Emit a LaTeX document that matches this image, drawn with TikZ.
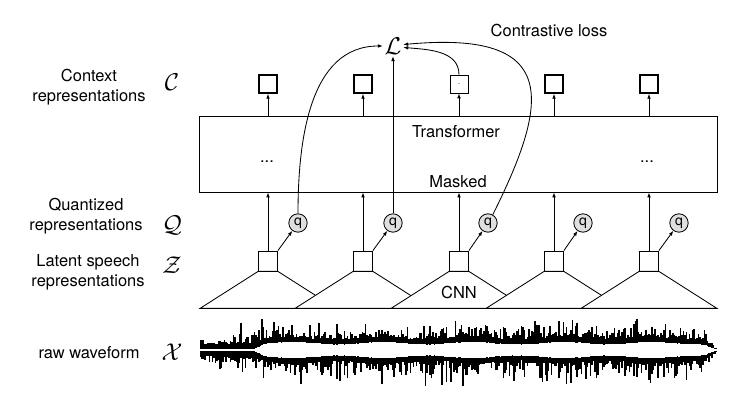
\documentclass[tikz,border=0pt]{standalone}
\usepackage{amssymb,amsmath}
\usepackage{fontspec}
\setmainfont{TeX Gyre Heros}
\usetikzlibrary{arrows.meta,positioning,calc}
\tikzset{
  ctxbox/.style={draw, line width=1.1pt, minimum width=0.45cm, minimum height=0.45cm, inner sep=0pt},
  latbox/.style={draw, minimum width=0.475cm, minimum height=0.5cm, inner sep=0pt},
  qnode/.style={draw, circle, fill=gray!25, minimum size=0.46cm, inner sep=0pt, font=\fontsize{10}{10}\selectfont},
  lbl/.style={align=center, font=\fontsize{11.7}{14}\selectfont},
  sym/.style={inner sep=1pt, font=\fontsize{16}{16}\selectfont},
  wave/.style={line width=1.2pt},
}

\begin{document}
\begin{tikzpicture}[x=0.025cm, y=0.025cm, line width=0.6pt, >={Latex[length=3.5pt,width=2.6pt]}]
            \useasboundingbox (0,0) rectangle (751,400);

            % labels
            \node[lbl] (tctx) at (89,313) {Context\\representations};
            \node[lbl] (tq) at (86,184) {Quantized\\representations};
            \node[lbl] (tz) at (88,128) {Latent speech\\representations};
            \node[lbl] (tx) at (89,47) {raw waveform};
            \node[sym] (sc) at (172,318) {$\mathcal{C}$};
            \node[sym] (sq) at (172,175) {$\mathcal{Q}$};
            \node[sym] (sz) at (172,135) {$\mathcal{Z}$};
            \node[sym] (sx) at (172,48) {$\mathcal{X}$};

            % transformer
            \node[draw, minimum width=12.95cm, minimum height=1.9cm] (tf) at (458,246) {};
            \node[lbl] (ttf) at (456,268) {Transformer};
            \node[lbl] (tmask) at (458,218) {Masked};
            \node[lbl] (dl) at (267,238) {...};
            \node[lbl] (dr) at (647,238) {...};

            % context representations
            \node[ctxbox] (c1) at (268,316) {};
            \node[ctxbox] (c2) at (363,316) {};
            \node[ctxbox, line width=0.5pt] (c3) at (459,316) {\tiny .};
            \node[ctxbox] (c4) at (554,316) {};
            \node[ctxbox] (c5) at (649,316) {};

            % latent speech representations
            \node[latbox] (z1) at (268,139) {};
            \node[latbox] (z2) at (363,139) {};
            \node[latbox] (z3) at (459,139) {};
            \node[latbox] (z4) at (554,139) {};
            \node[latbox] (z5) at (649,139) {};

            % CNN
            \filldraw[fill=white] (z1.south west) -- ($(z1.south)+(-68,-37)$) -- ($(z1.south)+(68,-37)$) -- (z1.south east) -- cycle;
            \filldraw[fill=white] (z2.south west) -- ($(z2.south)+(-68,-37)$) -- ($(z2.south)+(68,-37)$) -- (z2.south east) -- cycle;
            \filldraw[fill=white] (z3.south west) -- ($(z3.south)+(-68,-37)$) -- ($(z3.south)+(68,-37)$) -- (z3.south east) -- cycle;
            \filldraw[fill=white] (z4.south west) -- ($(z4.south)+(-68,-37)$) -- ($(z4.south)+(68,-37)$) -- (z4.south east) -- cycle;
            \filldraw[fill=white] (z5.south west) -- ($(z5.south)+(-68,-37)$) -- ($(z5.south)+(68,-37)$) -- (z5.south east) -- cycle;
            \node[lbl] (tcnn) at (459,107) {CNN};

            % quantized representations
            \node[qnode] (q1) at (298,177) {q};
            \node[qnode] (q2) at (393,177) {q};
            \node[qnode] (q3) at (488,177) {q};
            \node[qnode] (q4) at (583,177) {q};
            \node[qnode] (q5) at (679,177) {q};

            \draw[->] (z1.north east) -- (q1);
            \draw[->] (z2.north east) -- (q2);
            \draw[->] (z3.north east) -- (q3);
            \draw[->] (z4.north east) -- (q4);
            \draw[->] (z5.north east) -- (q5);

            \draw[->] (z1.north) -- (z1.north |- tf.south);
            \draw[->] (z2.north) -- (z2.north |- tf.south);
            \draw[->] (z3.north) -- (z3.north |- tf.south);
            \draw[->] (z4.north) -- (z4.north |- tf.south);
            \draw[->] (z5.north) -- (z5.north |- tf.south);

            \draw[->] (c1.south |- tf.north) -- (c1.south);
            \draw[->] (c2.south |- tf.north) -- (c2.south);
            \draw[->] (c3.south |- tf.north) -- (c3.south);
            \draw[->] (c4.south |- tf.north) -- (c4.south);
            \draw[->] (c5.south |- tf.north) -- (c5.south);

            % contrastive loss
            \node[sym] (L) at (393,354) {$\mathcal{L}$};
            \node[lbl] (tloss) at (549,369) {Contrastive loss};
            \draw[->] (q1.north) to[out=90,in=180] (L.west);
            \draw[->] (q2.north) -- (L.south);
            \draw[->] (c3.north) to[out=90,in=-5] ([yshift=-1pt]L.east);
            \draw[->] (q3.60) .. controls (550,300) and (560,370) .. ([yshift=1pt]L.east);

            % raw waveform
            \pgfmathsetseed{42}
            \foreach \i in {0,...,344}{
              \pgfmathsetmacro\wx{200.5+1.5*\i}
              \pgfmathsetmacro\wt{min(1,(718-\wx)/16)}
              \pgfmathsetmacro\wa{min(1,0.35+(\wx-200)/70)*\wt}
              \pgfmathsetmacro\ws{min(1,max(0,(\wx-254)/10))}
              \pgfmathsetmacro\rg{rnd}
              \pgfmathsetmacro\wg{(1+\ws*(5.5+1.2*sin(\wx*4)+0.6*\rg))*\wt}
              \pgfmathsetmacro\ra{rnd}
              \pgfmathsetmacro\rb{rnd}
              \pgfmathsetmacro\rc{rnd}
              \pgfmathsetmacro\rd{rnd}
              \pgfmathsetmacro\wu{\wg+(4.5+2*\ra)*\wt+\wa*(10*\rb^3+14*\rc^6)}
              \pgfmathsetmacro\rf{rnd}
              \pgfmathsetmacro\wl{\wg+(4.5+2*\rd)*\wt+\wa*(12*\rf^3+18*\ra^6)}
              \draw[wave] (\wx,50+\wg) -- (\wx,50+\wu);
              \draw[wave] (\wx,50-\wg) -- (\wx,50-\wl);
            }
\end{tikzpicture}
\end{document}
